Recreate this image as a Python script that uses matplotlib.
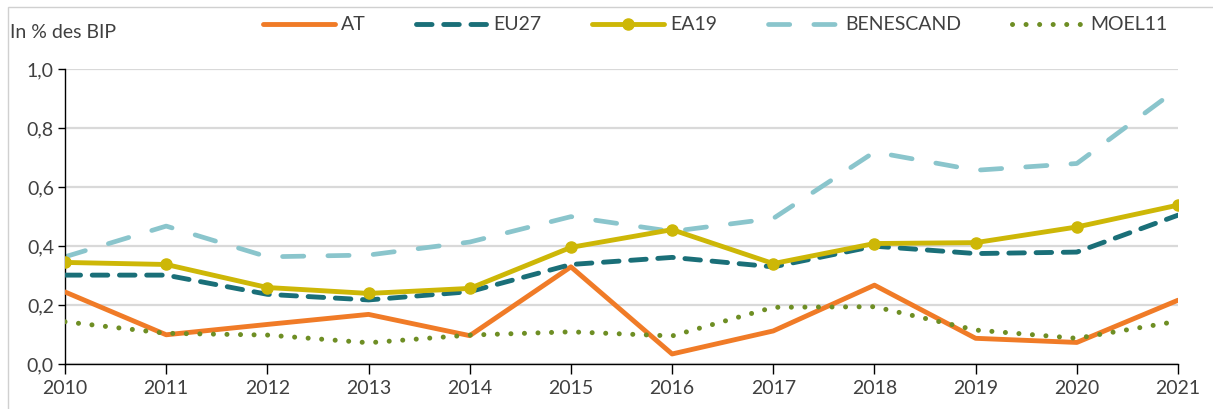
import matplotlib
matplotlib.use("Agg")
import matplotlib.pyplot as plt
from matplotlib.patches import Rectangle
from matplotlib.ticker import FuncFormatter

years = list(range(2010, 2022))
at = [0.245, 0.10, 0.135, 0.169, 0.097, 0.33, 0.035, 0.113, 0.268, 0.088, 0.074, 0.217]
eu27 = [0.302, 0.302, 0.237, 0.218, 0.246, 0.338, 0.362, 0.330, 0.400, 0.375, 0.380, 0.505]
ea19 = [0.345, 0.338, 0.260, 0.240, 0.257, 0.396, 0.456, 0.341, 0.409, 0.412, 0.465, 0.539]
benescand = [0.364, 0.468, 0.364, 0.370, 0.414, 0.500, 0.450, 0.494, 0.719, 0.657, 0.680, 0.934]
moel11 = [0.144, 0.105, 0.099, 0.073, 0.099, 0.110, 0.096, 0.193, 0.195, 0.116, 0.088, 0.146]
y_ticks = [0.0, 0.2, 0.4, 0.6, 0.8, 1.0]
y_label = "In % des BIP"

plt.rcParams['font.family'] = ['Lato', 'DejaVu Sans']
TXT = '#404040'
W, H = 1213, 409
fig = plt.figure(figsize=(W / 100, H / 100), dpi=100)
ax = fig.add_axes([65 / W, 1 - 364.3 / H, (1178 - 65) / W, (364.3 - 69) / H])

c_at = '#F07B27'
c_eu = '#1A6F78'
c_ea = '#CDB707'
c_be = '#8AC5CC'
c_mo = '#6E8E24'

l_be, = ax.plot(years, benescand, color=c_be, lw=3.4, dashes=(4.5, 5.1),
                dash_capstyle='round', solid_capstyle='round', label='BENESCAND', zorder=2)
l_at, = ax.plot(years, at, color=c_at, lw=3.5, solid_capstyle='round', label='AT', zorder=3)
l_mo, = ax.plot(years, moel11, color=c_mo, lw=3.6, dashes=(0.01, 2.7),
                dash_capstyle='round', label='MOEL11', zorder=4)
l_eu, = ax.plot(years, eu27, color=c_eu, lw=3.5, dashes=(3.2, 2.4),
                dash_capstyle='round', label='EU27', zorder=5)
l_ea, = ax.plot(years, ea19, color=c_ea, lw=3.5, marker='o', markersize=8,
                solid_capstyle='round', label='EA19', zorder=6)

ax.set_xlim(2010, 2021)
ax.set_ylim(0, 1.0)
ax.set_xticks(years)
ax.set_yticks(y_ticks)
ax.yaxis.set_major_formatter(FuncFormatter(lambda v, p: f"{v:.1f}".replace('.', ',')))
ax.grid(axis='y', color='#D9D9D9', lw=1.6, zorder=0)
ax.set_axisbelow(True)
for s in ['top', 'right']:
    ax.spines[s].set_visible(False)
for s in ['left', 'bottom']:
    ax.spines[s].set_color('black')
    ax.spines[s].set_linewidth(1.0)
ax.tick_params(axis='y', direction='out', length=5, width=1, colors='black',
               labelcolor=TXT, labelsize=14, pad=3)
ax.tick_params(axis='x', direction='out', length=7, width=1, colors='black',
               labelcolor=TXT, labelsize=14, pad=4)

fig.text(10 / W, 1 - 32 / H, y_label, fontsize=14, color=TXT, ha='left', va='center')

leg = fig.legend(handles=[l_at, l_eu, l_ea, l_be, l_mo], loc='center',
                 bbox_to_anchor=(715 / W, 1 - 25 / H), ncol=5, frameon=False,
                 fontsize=14, handlelength=3.7, handletextpad=0.3, columnspacing=2.6,
                 borderpad=0, numpoints=1)
for t in leg.get_texts():
    t.set_color(TXT)

fig.patches.append(Rectangle((8 / W, -0.1), 1.2, 1.1 - 7.5 / H, transform=fig.transFigure,
                             fill=False, edgecolor='#D0D0D0', lw=1.0))

fig.savefig('out.png', dpi=100)
